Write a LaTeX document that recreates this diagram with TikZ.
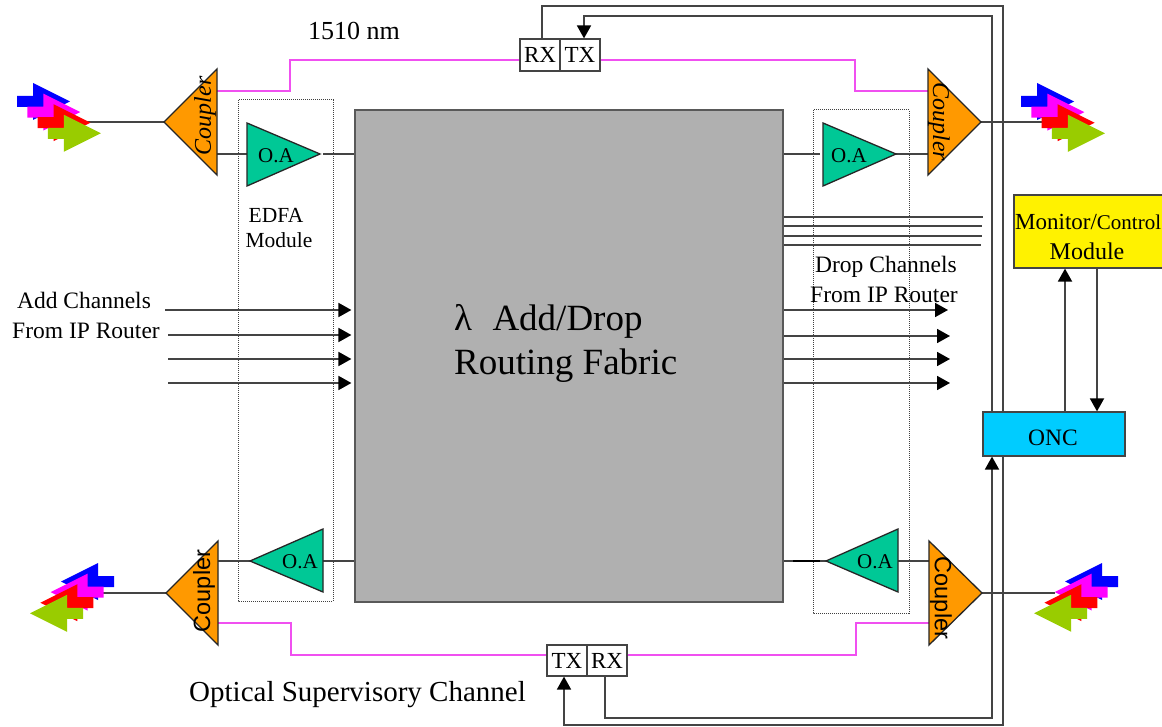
\documentclass[tikz,border=0pt]{standalone}
\usepackage{fontspec}
\setmainfont{Liberation Serif}
\newfontfamily\arialfam{Liberation Sans}
\usetikzlibrary{arrows.meta,calc}
\pgfdeclarelayer{wires}
\pgfsetlayers{wires,main}
\newcommand{\fsz}[1]{\fontsize{#1}{#1}\selectfont}
\definecolor{cblue}{HTML}{0000FF}
\definecolor{cpink}{HTML}{FF00FF}
\definecolor{cred}{HTML}{FF0000}
\definecolor{cgreen}{HTML}{99CC00}
\definecolor{lineC}{HTML}{444444}
\definecolor{pinkline}{HTML}{F050F0}
\definecolor{coupC}{HTML}{FF9900}
\definecolor{oaC}{HTML}{00C896}
\definecolor{fabC}{HTML}{B0B0B0}
\definecolor{oncC}{HTML}{00CCFF}
\tikzset{
  wire/.style={draw=lineC,line width=1.8pt},
  arrowwire/.style={wire,-{Triangle[length=13pt,width=14pt,color=black,fill=black]}},
  pinkwire/.style={draw=pinkline,line width=1.8pt},
  coupler/.style={draw=black!85,fill=coupC,line width=1.3pt,line join=miter},
  amp/.style={draw=black!85,fill=oaC,line width=1.3pt,line join=miter},
  module/.style={draw=black!75,densely dotted,line width=1pt},
  smallbox/.style={draw=lineC,fill=white,line width=1.2pt,minimum width=40pt,minimum height=32pt,inner sep=0pt,font=\fsz{23}},
  label/.style={inner sep=0pt,font=\fsz{23}},
  oalabel/.style={inner sep=0pt,font=\fsz{21}},
  couptext/.style={inner sep=0pt,font=\fsz{24}\itshape},
  couptextsans/.style={inner sep=0pt,font=\fsz{23.5}\arialfam},
}
\newcommand{\arrowcluster}[3]{%
  \begin{scope}[shift={(#1,#2)},xscale=#3]
  \foreach \c/\i in {cblue/0,cpink/1,cred/2,cgreen/3}{
    \fill[\c,shift={(10.3*\i,10.6*\i)}] (0,0) -- (-37,-18.5) -- (-37,-5.5) -- (-53,-5.5) -- (-53,5.5) -- (-37,5.5) -- (-37,18.5) -- cycle;
  }
  \end{scope}}
\begin{document}
\begin{tikzpicture}[x=1pt,y=-1pt]
\useasboundingbox (0,0) rectangle (1162,727);
\begin{pgfonlayer}{wires}
\fill[white] (0,0) rectangle (1162,727);
\end{pgfonlayer}

% named points
\coordinate (tlTip) at (164,122); \coordinate (tlA) at (217,91); \coordinate (tlB) at (217,154);
\coordinate (trTip) at (981,122); \coordinate (trA) at (928,91); \coordinate (trB) at (928,154);
\coordinate (blTip) at (166,593); \coordinate (blA) at (218,623); \coordinate (blB) at (218,561);
\coordinate (brTip) at (982,593); \coordinate (brA) at (929,623); \coordinate (brB) at (929,561);
\coordinate (tlIn) at (247,154); \coordinate (tlOut) at (320,154);
\coordinate (trIn) at (823,154); \coordinate (trOut) at (896,154);
\coordinate (blIn) at (323,561); \coordinate (blOut) at (250,561);
\coordinate (brIn) at (898,561); \coordinate (brOut) at (826,561);
\coordinate (extTL) at (85,122); \coordinate (extTR) at (1045,122);
\coordinate (extBL) at (100,593); \coordinate (extBR) at (1055,593);

% dotted module frames
\draw[module] (238,100) rectangle (333,601);
\draw[module] (813,110) rectangle (909,613);

% fabric
\node[draw=black!65,fill=fabC,line width=1.2pt,minimum width=428pt,minimum height=492pt,inner sep=0pt] (fabric) at (569,356) {};

% small boxes
\node[smallbox] (rxT) at (540,55) {RX};
\node[smallbox] (txT) at (580,55) {TX};
\node[smallbox,minimum height=31pt] (txB) at (567,660.5) {TX};
\node[smallbox,minimum height=31pt] (rxB) at (607,660.5) {RX};

% ONC and monitor
\node[draw=lineC,fill=oncC,line width=1.2pt,minimum width=142pt,minimum height=44pt,inner sep=0pt] (onc) at (1054,434) {};
\node[draw=lineC,fill=yellow,line width=1.2pt,minimum width=160pt,minimum height=73pt,inner sep=0pt] (mon) at (1094,231.5) {};

% supervisory wires, under the boxes
\coordinate (c1) at (1003,6); \coordinate (c2) at (992,16);
\coordinate (c3) at (1003,725); \coordinate (c4) at (992,718);
\coordinate (rxUp) at ([xshift=2pt]rxT.north);
\coordinate (txDown) at ([xshift=4pt]txT.north);
\coordinate (rxDown) at ([xshift=-2pt]rxB.south);
\coordinate (txUp) at ([xshift=-3pt]txB.south);
\begin{pgfonlayer}{wires}
\draw[arrowwire] (rxUp) |- (c1) -- (c3) -| (txUp);
\draw[arrowwire] (c2 |- onc.north) -- (c2) -| (txDown);
\draw[arrowwire] (rxDown) |- (c4) -- (c4 |- onc.south);
\end{pgfonlayer}
\coordinate (mu) at (1065,340); \coordinate (md) at (1097,340);
\draw[arrowwire] (mu |- onc.north) -- (mu |- mon.south);
\draw[arrowwire] (md |- mon.south) -- (md |- onc.north);

% pink lines
\draw[pinkwire] (tlA) -- (290,91) -- (290,60) -- (rxT.west |- 0,60);
\draw[pinkwire] (txT.east |- 0,60) -- (855,60) -- (855,91) -- (trA);
\draw[pinkwire] (blA) -- (291,623) -- (291,655) -- (txB.west |- 0,655);
\draw[pinkwire] (rxB.east |- 0,655) -- (856,655) -- (856,623) -- (brA);

% signal wires
\draw[wire] (extTL) -- (tlTip);
\draw[wire] (trTip) -- (extTR);
\draw[wire] (extBL) -- (blTip);
\draw[wire] (brTip) -- (extBR);
\draw[wire] (tlB) -- (tlIn);
\draw[wire] (tlOut) ++(3,0) -- (fabric.west |- tlOut);
\draw[wire] (fabric.east |- trIn) -- (820,154);
\draw[wire] (trOut) -- (trB);
\draw[wire] (blB) -- (blOut);
\draw[wire] (blIn) -- (fabric.west |- blIn);
\draw[wire] (fabric.east |- brOut) -- (brOut);
\draw[wire,draw=black,line width=2.2pt] (793,561) -- (820,561);
\draw[wire] (brIn) -- (brB);

% tail lines on the right of the fabric
\foreach \y/\xe in {217/983,226/982,236/982,245/981}{
  \coordinate (t) at (\xe,\y);
  \draw[wire] (fabric.east |- t) -- (t);
}

% add / drop arrows
\foreach \y/\xs in {310/165,335/168,359/168,383/168}{
  \coordinate (a) at (\xs,\y);
  \draw[arrowwire,shorten >=3pt] (a) -- (fabric.west |- a);
}
\foreach \y/\xe in {310/948,336/950,359/950,383/950}{
  \coordinate (d) at (\xe,\y);
  \draw[arrowwire] (fabric.east |- d) -- (d);
}

% couplers
\draw[coupler] (217,69) -- (217,175) -- (tlTip) -- cycle;
\draw[coupler] (928,69) -- (928,175) -- (trTip) -- cycle;
\draw[coupler] (218,541) -- (218,645) -- (blTip) -- cycle;
\draw[coupler] (929,541) -- (929,645) -- (brTip) -- cycle;
\node[couptext,rotate=90] (ctl) at (205,116) {Coupler};
\node[couptext,rotate=-90] (ctr) at (939,122) {Coupler};
\node[couptextsans,rotate=90] (cbl) at (204,591) {Coupler};
\node[couptextsans,rotate=-90] (cbr) at (941,598) {Coupler};

% amplifiers
\draw[amp] (247,123) -- (247,186) -- (tlOut) -- cycle;
\draw[amp] (823,123) -- (823,186) -- (trOut) -- cycle;
\draw[amp] (323,529) -- (323,592) -- (blOut) -- cycle;
\draw[amp] (898,529) -- (898,592) -- (brOut) -- cycle;
\node[oalabel] (oa1) at (276,156) {O.A};
\node[oalabel] (oa2) at (849,156) {O.A};
\node[oalabel] (oa3) at (300,562) {O.A};
\node[oalabel] (oa4) at (875,562) {O.A};

% signal clusters
\arrowcluster{70}{101.5}{1}
\arrowcluster{1074}{101.5}{1}
\arrowcluster{61}{581.5}{-1}
\arrowcluster{1065}{581.5}{-1}

% texts
\node[label,font=\fsz{26}] (nm) at (354,31) {1510 nm};
\node[label,font=\fsz{21.5}] (edfa) at (276,215) {EDFA};
\node[label,font=\fsz{21.5}] (edfam) at (279,240) {Module};
\node[label,font=\fsz{23.5}] (ac1) at (84,300) {Add Channels};
\node[label,font=\fsz{23.5}] (ac2) at (86,331) {From IP Router};
\node[label,font=\fsz{23.5}] (dc1) at (886,267) {Drop Channels};
\node[label,font=\fsz{23.5}] (dc2) at (884,295) {From IP Router};
\node[label,font=\fsz{37},anchor=west] (fab1) at (454,321) {λ\hspace{0.55em}Add/Drop};
\node[label,font=\fsz{37},anchor=west] (fab2) at (454,366) {Routing Fabric};
\node[label,font=\fsz{23.5}] (onct) at (1053,438) {ONC};
\node[label,anchor=west] (mon1) at (1015,222) {\fsz{23}Monitor/\fsz{21}Control};
\node[label,font=\fsz{24}] (mon2) at (1087,251) {Module};
\node[label,font=\fsz{29},anchor=west] (osc) at (189,695) {Optical Supervisory Channel};
\end{tikzpicture}
\end{document}
